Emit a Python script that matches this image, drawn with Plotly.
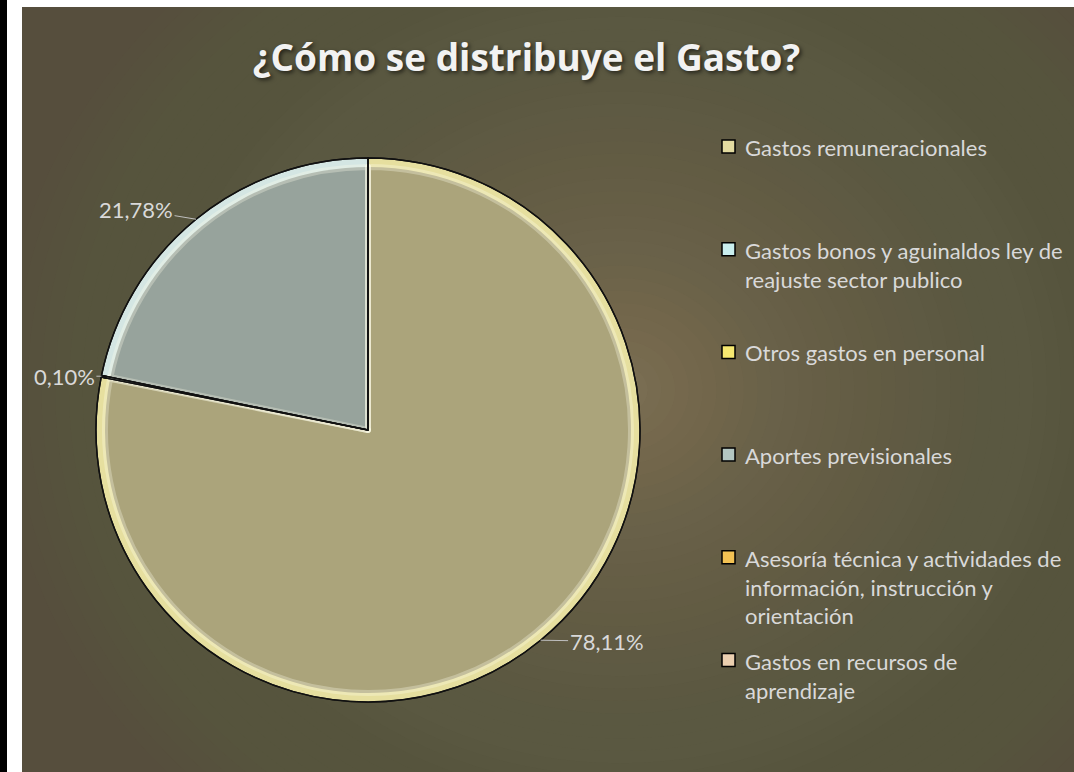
import math
import plotly.graph_objects as go

# ---------------- data ----------------
categories = [
    "Gastos remuneracionales",
    "Gastos bonos y aguinaldos ley de reajuste sector publico",
    "Otros gastos en personal",
    "Aportes previsionales",
    "Asesoría técnica y actividades de información, instrucción y orientación",
    "Gastos en recursos de aprendizaje",
]
legend_labels = [
    "Gastos remuneracionales",
    "Gastos bonos y aguinaldos ley de<br>reajuste sector publico",
    "Otros gastos en personal",
    "Aportes previsionales",
    "Asesoría técnica y actividades de<br>información, instrucción y<br>orientación",
    "Gastos en recursos de<br>aprendizaje",
]
shares = [78.11, 0.10, 0.0, 21.78, 0.0, 0.0]
title_text = "¿Cómo se distribuye el Gasto?"

# ---------------- style ----------------
W, H = 1074, 772
ML, MT = 22, 7
PW, PH = W - ML, H - MT

fill_colors = ["#aba47b", "#c6e6e6", "#f0e26a", "#97a39c", "#f0bb55", "#e6cba9"]
bevel_colors = ["#e6df9f", "#e4f6f6", "#f7ee9a", "#d4e6e3", "#f8d690", "#f2dfc8"]
legend_colors = ["#e3dba0", "#c9eeee", "#f6e870", "#b3c6c1", "#f3c253", "#ebcfb0"]
text_color = "#d9d9d9"
FONT = "Lato"

PIE_CX, PIE_CY, PIE_R, BEVEL = 368, 430, 272, 9
label_offsets = {0: (66, 1), 1: (-37, 0), 3: (-60, -10)}
LEG_SQ_X0, LEG_SQ_X1, LEG_TX = 722, 735, 743
LEG_Y0, LEG_STEP = 146.5, 102.7

BG_BASE = (86, 78, 61)
BG_CENTER = (124, 112, 83)
GCX, GCY, GRX, GRY = 620, 390, 620, 560


def px_x(px):
    return (px - ML) / PW


def px_y(py):
    return (H - py) / PH


def domain(r):
    return dict(x=[px_x(PIE_CX - r), px_x(PIE_CX + r)],
                y=[px_y(PIE_CY + r), px_y(PIE_CY - r)])


fig = go.Figure()

common = dict(labels=categories, values=shares, sort=False, direction="clockwise",
              rotation=0, textinfo="none", showlegend=False, hoverinfo="label+percent")

# bevel / outline layer
fig.add_trace(go.Pie(domain=domain(PIE_R),
                     marker=dict(colors=bevel_colors, line=dict(color="#111111", width=1.5)),
                     **common))
# main fill layer
fig.add_trace(go.Pie(domain=domain(PIE_R - BEVEL),
                     marker=dict(colors=fill_colors,
                                 line=dict(color="rgba(255,255,235,0.30)", width=6)),
                     **common))
# outlines on top
fig.add_trace(go.Pie(domain=domain(PIE_R),
                     marker=dict(colors=["rgba(0,0,0,0)"] * len(shares),
                                 line=dict(color="#111111", width=1.3)),
                     **common))

shapes = []
annotations = []

# background radial gradient
shapes.append(dict(type="rect", xref="paper", yref="paper", x0=0, x1=1, y0=0, y1=1,
                   fillcolor="rgb(%d,%d,%d)" % BG_BASE, line=dict(width=0), layer="below"))
N = 45
for k in range(1, N + 1):
    f = 1 - (k - 1) / N
    a = 1.0 / (N - k + 1)
    shapes.append(dict(type="circle", xref="paper", yref="paper",
                       x0=px_x(GCX - GRX * f), x1=px_x(GCX + GRX * f),
                       y0=px_y(GCY + GRY * f), y1=px_y(GCY - GRY * f),
                       fillcolor="rgba(%d,%d,%d,%.4f)" % (*BG_CENTER, a),
                       line=dict(width=0), layer="below"))

# page margins (white) and black strip at left
shapes.append(dict(type="rect", xref="paper", yref="paper", x0=px_x(0), x1=px_x(ML),
                   y0=px_y(H + 5), y1=px_y(-5), fillcolor="white", line=dict(width=0), layer="above"))
shapes.append(dict(type="rect", xref="paper", yref="paper", x0=px_x(0), x1=px_x(W + 5),
                   y0=px_y(MT), y1=px_y(-5), fillcolor="white", line=dict(width=0), layer="above"))
shapes.append(dict(type="rect", xref="paper", yref="paper", x0=px_x(-2), x1=px_x(7),
                   y0=px_y(H + 5), y1=px_y(-5), fillcolor="black", line=dict(width=0), layer="above"))

# data labels with leader lines
total = sum(shares)
cum = 0.0
for i, v in enumerate(shares):
    if v > 0:
        theta = 2 * math.pi * (cum + v / 2) / total
        tx = PIE_CX + PIE_R * math.sin(theta)
        ty = PIE_CY - PIE_R * math.cos(theta)
        ax, ay = label_offsets.get(i, (40 if math.sin(theta) >= 0 else -40, 0))
        annotations.append(dict(
            x=px_x(tx), y=px_y(ty), xref="paper", yref="paper",
            text=("%.2f" % v).replace(".", ",") + "%",
            showarrow=True, ax=ax, ay=ay, arrowhead=0, arrowwidth=1,
            arrowcolor="#bfbfbf", standoff=0,
            font=dict(family=FONT, size=22, color=text_color)))
    cum += v

# legend (swatches + text)
for i, lab in enumerate(legend_labels):
    yc = LEG_Y0 + i * LEG_STEP
    shapes.append(dict(type="rect", xref="paper", yref="paper",
                       x0=px_x(LEG_SQ_X0), x1=px_x(LEG_SQ_X1),
                       y0=px_y(yc + 6.5), y1=px_y(yc - 6.5),
                       fillcolor=legend_colors[i], line=dict(color="black", width=1.5),
                       layer="above"))
    annotations.append(dict(
        x=px_x(LEG_TX), y=px_y(yc - 14.5), xref="paper", yref="paper",
        xanchor="left", yanchor="top", align="left", showarrow=False,
        text=lab, font=dict(family=FONT, size=22, color=text_color)))

fig.update_layout(
    width=W, height=H,
    margin=dict(l=ML, r=0, t=MT, b=0),
    paper_bgcolor="white", plot_bgcolor="rgba(0,0,0,0)",
    title=dict(text=title_text, xref="paper", x=px_x(526.5), xanchor="center",
               yref="container", y=1 - 58 / H, yanchor="middle",
               font=dict(family="Open Sans", size=37, color="#f2f2f2", weight="bold",
                         shadow="2px 2px 4px rgba(0,0,0,0.6)")),
    shapes=shapes, annotations=annotations,
    showlegend=False,
)

fig.write_html("out.html",
               config={"displayModeBar": False},
               post_script="document.body.style.margin='0';document.body.style.overflow='hidden';")
